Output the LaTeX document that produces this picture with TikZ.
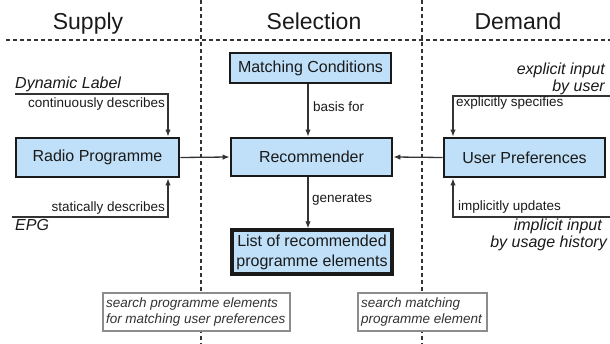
\documentclass[tikz,border=0pt]{standalone}
\usepackage{fontspec}
\setmainfont{Liberation Sans}
\usetikzlibrary{arrows.meta}
\definecolor{boxblue}{HTML}{BFE0F8}
\definecolor{ink}{HTML}{1A1A1A}
\definecolor{lineg}{HTML}{333333}
\definecolor{notegray}{HTML}{8C8C8C}
\begin{document}
\begin{tikzpicture}[x=1pt,y=-1pt,
  box/.style={draw=ink, line width=2.8pt, fill=boxblue, text=ink, inner sep=0pt, align=center,
    font=\fontsize{16}{20}\selectfont},
  note/.style={draw=notegray, line width=1.2pt, fill=white, text=black!80, align=flush left,
    inner xsep=3pt, inner ysep=0pt, font=\fontsize{13.5}{16.5}\selectfont\itshape},
  lbl/.style={font=\fontsize{13.5}{15}\selectfont, text=ink, inner sep=0pt},
  ital/.style={font=\fontsize{16}{18}\selectfont\itshape, text=ink, inner sep=0pt},
  hdr/.style={font=\fontsize{23}{26}\selectfont, text=ink, anchor=base, inner sep=0pt},
  divider/.style={draw=lineg, line width=1.3pt, dash pattern=on 4pt off 3pt},
  conn/.style={draw=lineg, line width=1.3pt, -{Latex[length=7pt,width=5.5pt]}}]
\path[use as bounding box] (0,0) rectangle (610,344);

% dividers
\coordinate (hA) at (6,40); \coordinate (hB) at (610,40);
\coordinate (v1A) at (201,0); \coordinate (v1B) at (201,344);
\coordinate (v2A) at (422,0); \coordinate (v2B) at (422,344);
\draw[divider] (hA) -- (hB);
\draw[divider] (v1A) -- (v1B);
\draw[divider] (v2A) -- (v2B);

% headers
\node[hdr] (supply) at (88,30) {Supply};
\node[hdr] (selection) at (314,30) {Selection};
\node[hdr] (demand) at (518,30) {Demand};

% boxes
\node[box, minimum width=161pt, minimum height=30pt] (match) at (310.5,68) {Matching Conditions};
\node[box, minimum width=161pt, minimum height=38pt] (rec) at (311.5,157) {Recommender};
\node[box, minimum width=163pt, minimum height=39pt] (radio) at (97.5,157.5) {Radio Programme};
\node[box, minimum width=161pt, minimum height=39pt] (user) at (524.5,157.5) {User Preferences};
\node[box, line width=3.2pt, minimum width=160pt, minimum height=44pt] (list) at (312,252) {List of recommended\\programme elements};

% notes
\node[note, text width=181pt, minimum height=38pt] (n1) at (196.5,312) {search programme elements\\for matching user preferences};
\node[note, text width=123pt, minimum height=38pt] (n2) at (422.5,312) {search matching\\programme element};

% centre connectors
\coordinate (cx) at (308,0);
\draw[conn] (match.south -| cx) -- (rec.north -| cx);
\draw[conn] (rec.south -| cx) -- (list.north -| cx);
\draw[conn] (radio.east) -- (rec.west);
\draw[conn] (user.west) -- (rec.east);
\node[lbl, anchor=base west] (basis) at (313,112) {basis for};
\node[lbl, anchor=base west] (gen) at (312,203) {generates};

% supply side
\coordinate (dlA) at (15,94); \coordinate (dlB) at (168,94);
\draw[conn] (dlA) -- (dlB) -- (dlB |- radio.north);
\node[ital, anchor=base west] (dyn) at (15,89) {Dynamic Label};
\node[lbl, anchor=base east] (cont) at (165,108) {continuously describes};
\coordinate (epA) at (12,217); \coordinate (epB) at (168,217);
\draw[conn] (epA) -- (epB) -- (epB |- radio.south);
\node[lbl, anchor=base east] (stat) at (165,212) {statically describes};
\node[ital, anchor=base west] (epg) at (15,231) {EPG};

% demand side
\coordinate (exA) at (610,96); \coordinate (exB) at (453,96);
\draw[conn] (exA) -- (exB) -- (exB |- user.north);
\node[ital, anchor=base east] (exin) at (605,75) {explicit input};
\node[ital, anchor=base east] (byuser) at (605,92) {by user};
\node[lbl, anchor=base west] (exsp) at (456,107) {explicitly specifies};
\coordinate (imA) at (610,217); \coordinate (imB) at (453,217);
\draw[conn] (imA) -- (imB) -- (imB |- user.south);
\node[lbl, anchor=base west] (imup) at (458,211) {implicitly updates};
\node[ital, anchor=base east] (imin) at (602,231) {implicit input};
\node[ital, anchor=base east] (usage) at (607,248) {by usage history};
\end{tikzpicture}
\end{document}
